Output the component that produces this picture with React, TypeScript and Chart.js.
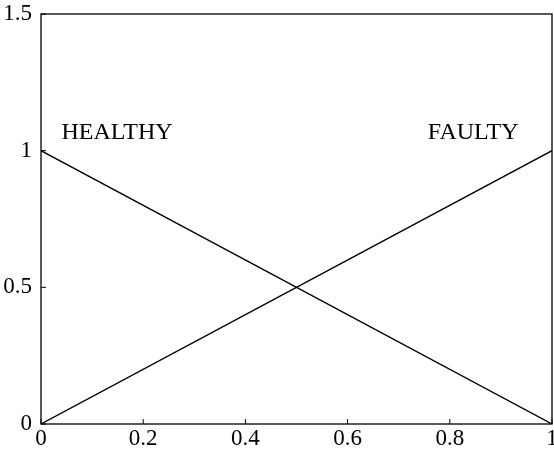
import React, { useEffect, useRef } from "react";
import { Chart, registerables } from "chart.js";

Chart.register(...registerables);

// Membership functions over the normalised fault indicator
const healthyX = [0, 1];
const healthyY = [1, 0];
const faultyX = [0, 1];
const faultyY = [0, 1];

const xTicks = [0, 0.2, 0.4, 0.6, 0.8, 1];
const yTicks = [0, 0.5, 1, 1.5];

// Text labels placed in data coordinates
const labelTexts = ["HEALTHY", "FAULTY"];
const labelX = [0.04, 0.757];
const labelY = [1.065, 1.065];

const FONT = "'Liberation Serif', 'DejaVu Serif', serif";

const framePlugin = {
  id: "frameAndTicks",
  afterDatasetsDraw(chart: any) {
    const { ctx, chartArea, scales } = chart;
    const { left, right, top, bottom } = chartArea;
    ctx.save();
    ctx.strokeStyle = "#000";
    ctx.lineWidth = 1.3;
    ctx.strokeRect(left, top, right - left, bottom - top);
    // inward tick marks
    const len = 5;
    ctx.lineWidth = 1;
    ctx.beginPath();
    for (const v of xTicks) {
      const px = scales.x.getPixelForValue(v);
      ctx.moveTo(px, bottom);
      ctx.lineTo(px, bottom - len);
    }
    for (const v of yTicks) {
      const py = scales.y.getPixelForValue(v);
      ctx.moveTo(left, py);
      ctx.lineTo(left + len, py);
    }
    ctx.stroke();
    // text labels
    ctx.fillStyle = "#000";
    ctx.font = `24px ${FONT}`;
    ctx.textAlign = "left";
    ctx.textBaseline = "middle";
    labelTexts.forEach((t, i) => {
      ctx.fillText(t, scales.x.getPixelForValue(labelX[i]), scales.y.getPixelForValue(labelY[i]));
    });
    ctx.restore();
  },
};

export default function App() {
  const ref = useRef<HTMLCanvasElement | null>(null);

  useEffect(() => {
    if (!ref.current) return;
    const chart = new Chart(ref.current, {
      type: "line",
      data: {
        datasets: [
          {
            label: "Healthy",
            data: healthyX.map((x, i) => ({ x, y: healthyY[i] })),
            borderColor: "#000",
            borderWidth: 1.3,
            pointRadius: 0,
            fill: false,
          },
          {
            label: "Faulty",
            data: faultyX.map((x, i) => ({ x, y: faultyY[i] })),
            borderColor: "#000",
            borderWidth: 1.3,
            pointRadius: 0,
            fill: false,
          },
        ],
      },
      plugins: [framePlugin],
      options: {
        animation: false,
        responsive: false,
        maintainAspectRatio: false,
        layout: { padding: { top: 14, right: 2, left: 0, bottom: 0 } },
        plugins: { legend: { display: false }, tooltip: { enabled: false } },
        scales: {
          x: {
            type: "linear",
            min: 0,
            max: 1,
            afterBuildTicks: (s: any) => {
              s.ticks = xTicks.map((v) => ({ value: v }));
            },
            afterFit: (s: any) => {
              s.height = 25;
              s.paddingLeft = 0;
              s.paddingRight = 0;
            },
            grid: { display: false, drawTicks: false },
            border: { display: false },
            ticks: {
              color: "#000",
              padding: 1,
              maxRotation: 0,
              autoSkip: false,
              font: { family: FONT, size: 23 },
              callback: (v: any) => String(v),
            },
          },
          y: {
            type: "linear",
            min: 0,
            max: 1.5,
            afterBuildTicks: (s: any) => {
              s.ticks = yTicks.map((v) => ({ value: v }));
            },
            afterFit: (s: any) => {
              s.width = 41;
              s.paddingTop = 0;
              s.paddingBottom = 0;
            },
            grid: { display: false, drawTicks: false },
            border: { display: false },
            ticks: {
              color: "#000",
              padding: 9,
              autoSkip: false,
              font: { family: FONT, size: 23 },
              callback: (v: any) => String(v),
            },
          },
        },
      },
    });
    return () => chart.destroy();
  }, []);

  return (
    <div style={{ position: "fixed", left: 0, top: 0, width: 554, height: 449, background: "#fff" }}>
      <canvas ref={ref} width={554} height={449} style={{ display: "block" }} />
    </div>
  );
}
